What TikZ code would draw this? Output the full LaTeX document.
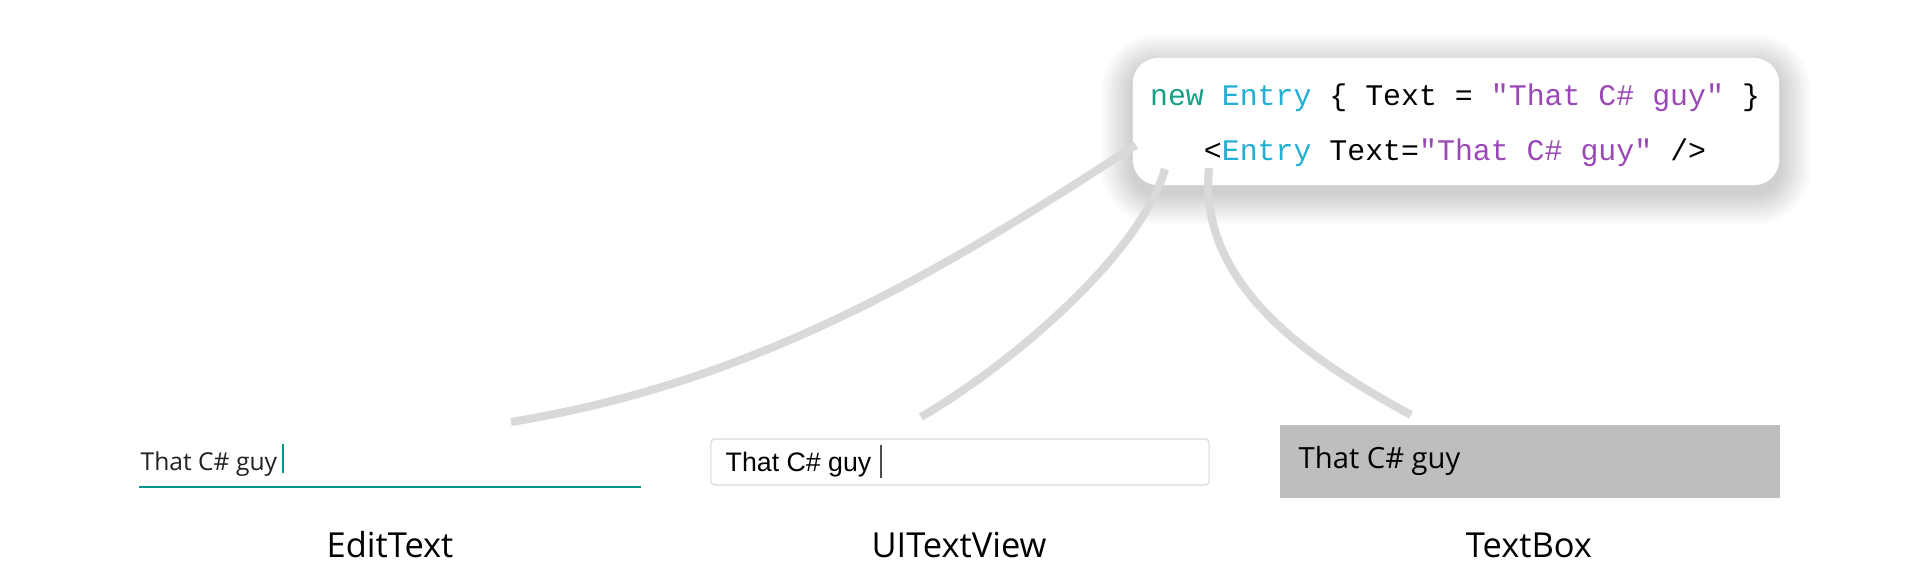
\documentclass[tikz,border=0pt]{standalone}
\usepackage{fontspec}
\setmonofont{Liberation Mono}
\newfontfamily\labelfont{Open Sans}
\newfontfamily\iosfont{Liberation Sans}
\usepackage{xcolor}
\usepackage{tikz}
\usetikzlibrary{calc}
\usetikzlibrary{positioning}
\definecolor{kwteal}{HTML}{16A085}
\definecolor{typecyan}{HTML}{23AED4}
\definecolor{strpurple}{HTML}{9A48B6}
\definecolor{droidteal}{HTML}{00968A}
\definecolor{wiregray}{HTML}{D9D9D9}
\definecolor{boxgray}{HTML}{BEBEBE}
\definecolor{fieldline}{HTML}{D8D8D8}
\newcommand{\codekw}[1]{\textcolor{kwteal}{#1}}
\newcommand{\codetype}[1]{\textcolor{typecyan}{#1}}
\newcommand{\codestr}[1]{\textcolor{strpurple}{#1}}
\tikzset{
    codebox/.style = {rectangle, rounded corners=0.25cm, fill=white, minimum width=6.46cm, minimum height=1.27cm, inner sep=0pt},
    codeline/.style = {anchor=base, inner sep=0pt, font=\ttfamily\fontsize{8.5pt}{10pt}\selectfont},
    caption/.style = {anchor=base, inner sep=0pt, font=\labelfont\fontsize{9.8pt}{12pt}\selectfont},
    fieldtext/.style = {anchor=base west, inner sep=0pt},
    wire/.style = {-, line width=2.3pt, wiregray},
}

\begin{document}
\begin{tikzpicture}[
	x=0.01cm,
	y=-0.01cm
]
\useasboundingbox (0,0) rectangle (1920,575);
%
\node[codebox] at (1456,121.5) (code) {};
\foreach \s [evaluate=\s as \rr using 0.25+\s*0.01] in {1,3,...,31}
  \fill[black, opacity=0.013, rounded corners=\rr cm] ($(code.south west)+(-\s,\s+8)$) rectangle ($(code.north east)+(\s,-\s+8)$);
\node[codebox] at (1456,121.5) (code) {};
\node[codeline] at (1455,105) (line1) {\codekw{new} \codetype{Entry} \{ Text = \codestr{"That C\# guy"} \}};
\node[codeline] at (1455,160) (line2) {<\codetype{Entry} Text=\codestr{"That C\# guy"} />};
%
\coordinate (w1) at (1136,145);
\coordinate (w2) at (1165,169);
\coordinate (w3) at (1209,168);
\coordinate (e1) at (511,422);
\coordinate (e2) at (921,417);
\coordinate (e3) at (1411,415);
\draw[wire] (w1) .. controls (945,269) and (761,381) .. (e1);
\draw[wire] (w2) .. controls (1142,250) and (1021,358) .. (e2);
\draw[wire] (w3) .. controls (1197,290) and (1320,365) .. (e3);
%
% EditText
\node[rectangle, minimum width=5cm, minimum height=0.4cm, inner sep=0pt] at (390,466) (edit) {};
\draw[droidteal, line width=0.6pt] (edit.south west) -- (edit.south east);
\node[fieldtext, text=black!87, font=\labelfont\fontsize{7.0pt}{9pt}\selectfont] at (140,470) (edittxt) {That C\# guy};
\draw[droidteal, line width=0.45pt] (283,444) -- (283,473);
\node[caption] at (390,557) (editcap) {EditText};
%
% UITextView
\node[rectangle, draw=fieldline, line width=0.3pt, rounded corners=0.04cm, minimum width=4.98cm, minimum height=0.46cm, inner sep=0pt] at (960,462) (uitv) {};
\node[fieldtext, font=\iosfont\fontsize{7.6pt}{9pt}\selectfont] at (725,471) (uitvtxt) {That C\# guy};
\draw[black!70, line width=0.5pt] (881,445) -- (881,478);
\node[caption] at (959,557) (uitvcap) {UITextView};
%
% TextBox
\node[rectangle, fill=boxgray, minimum width=5cm, minimum height=0.73cm, inner sep=0pt] at (1530,461.5) (tbox) {};
\node[fieldtext, font=\labelfont\fontsize{8.3pt}{10pt}\selectfont] at (1298,468) (tboxtxt) {That C\# guy};
\node[caption] at (1529,557) (tboxcap) {TextBox};
\end{tikzpicture}
\end{document}
